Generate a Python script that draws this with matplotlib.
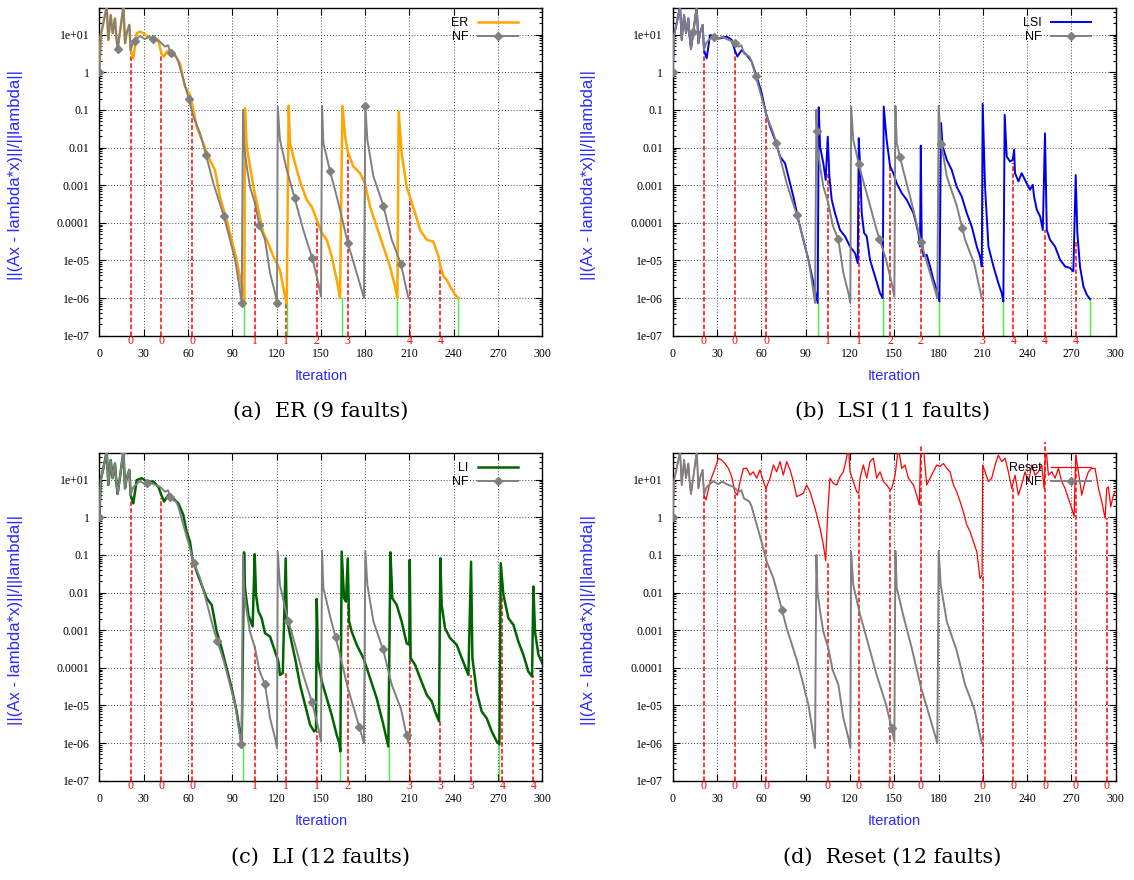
import numpy as np
import matplotlib
matplotlib.use("Agg")
import matplotlib.pyplot as plt
from matplotlib.lines import Line2D
from matplotlib.ticker import LogLocator, NullFormatter

# residual curves, stored as (iteration, log10 residual) points

NF = [(0, 0.0), (1.0, 1.0), (2.7, 1.30), (5.0, 1.75), (6.1, 0.86), (7.7, 1.52), (9.0, 1.04),
      (10.6, 1.43), (11.7, 0.86), (12.4, 0.62), (14.0, 1.08), (16.3, 1.75), (17.4, 0.77),
      (18.5, 1.04), (20.3, 1.26), (21.2, 0.59), (22.6, 0.77), (23.9, 0.84), (27.5, 0.96),
      (30.9, 0.88), (33.5, 0.95), (36.6, 0.88), (41.1, 0.81), (44.5, 0.68), (46.5, 0.72),
      (48.3, 0.50), (51.9, 0.42), (53.5, 0.28), (56.9, -0.20), (60.5, -0.70), (63.7, -1.18),
      (68.2, -1.62), (72.2, -2.19), (77.2, -2.95), (84.2, -3.81), (88.5, -4.45), (91.9, -4.98),
      (94.1, -5.51), (96.4, -6.13), (97.3, -1.0), (98.0, -1.97), (99.8, -2.5), (102.0, -3.04),
      (105.4, -3.48), (108.4, -4.07), (112.2, -4.45), (115.6, -5.34), (119.0, -5.87),
      (120.3, -6.13), (120.8, -0.91), (122.3, -1.80), (126.9, -2.59), (132.3, -3.35),
      (138.1, -4.19), (144.2, -4.94), (148.3, -5.6), (150.1, -5.96), (150.8, -0.89),
      (151.7, -1.88), (156.2, -2.62), (161.9, -3.48), (168.2, -4.53), (174.3, -5.34),
      (179.2, -6.0), (180.1, -0.89), (181.5, -1.80), (185.6, -2.77), (192.3, -3.54),
      (198.0, -4.45), (204.3, -5.10), (207.0, -5.6), (209.3, -6.0)]

# all runs share the fault-free start up to the first fault
EARLY = NF[:16]

ER = EARLY + [
    (23.0, 0.37), (25.3, 1.04), (27.5, 1.08), (29.8, 1.04), (33.2, 0.93), (36.6, 0.90),
    (40.0, 0.86), (42.0, 0.50), (43.8, 0.42), (45.6, 0.55), (47.9, 0.58), (51.2, 0.46),
    (54.6, 0.24), (58.0, -0.38), (61.4, -0.60), (63.7, -1.0), (65.9, -1.45), (70.4, -1.89),
    (74.9, -2.34), (78.3, -2.60), (81.7, -3.31), (86.2, -3.92), (89.6, -4.45), (93.0, -4.98),
    (96.4, -5.69), (98.2, -6.09), (98.6, -0.96), (99.8, -1.97), (102.0, -2.50), (105.2, -3.21),
    (107.7, -3.66), (111.1, -4.27), (114.4, -4.54), (117.8, -4.89), (122.3, -5.25),
    (125.7, -5.95), (126.9, -6.15), (128.2, -0.89), (129.1, -1.88), (132.5, -2.42),
    (135.9, -2.90), (140.4, -3.39), (143.8, -3.57), (147.2, -3.92), (150.6, -4.27),
    (154.0, -4.45), (157.3, -4.89), (160.7, -5.51), (163.0, -6.0), (164.6, -0.89),
    (166.4, -1.71), (168.2, -2.11), (172.0, -2.50), (176.5, -2.68), (179.9, -2.95),
    (183.3, -3.57), (187.8, -4.10), (192.3, -4.63), (196.8, -5.16), (200.2, -5.69),
    (201.8, -6.0), (202.7, -1.04), (204.7, -2.15), (208.1, -3.04), (210.2, -3.30),
    (213.8, -3.74), (217.2, -4.19), (221.7, -4.45), (226.2, -4.50), (229.6, -4.89),
    (231.0, -5.16), (233.0, -5.42), (235.2, -5.51), (237.5, -5.69), (240.9, -5.91),
    (243.1, -6.0)]

LSI = EARLY + [
    (23.0, 0.37), (25.3, 0.99), (28.7, 0.95), (32.1, 0.90), (36.6, 0.95), (40.0, 0.86),
    (42.0, 0.59), (43.8, 0.42), (46.7, 0.59), (50.1, 0.46), (53.5, 0.28), (56.9, -0.12),
    (60.3, -0.56), (63.2, -1.09), (65.9, -1.44), (69.3, -1.80), (72.7, -2.24), (76.1, -2.42),
    (78.3, -2.77), (81.7, -3.30), (85.1, -3.92), (88.5, -4.45), (91.9, -4.98), (95.3, -5.60),
    (98.2, -6.13), (98.9, -0.93), (99.8, -1.97), (102.0, -2.42), (103.6, -2.86), (105.0, -1.71),
    (106.1, -2.77), (107.7, -3.39), (109.9, -3.74), (113.3, -4.19), (116.7, -4.36),
    (120.1, -4.63), (123.5, -4.81), (125.3, -5.07), (126.0, -1.75), (126.9, -2.50),
    (128.0, -3.74), (129.6, -4.27), (131.4, -4.36), (133.6, -4.98), (137.0, -5.42),
    (140.4, -5.87), (142.2, -6.0), (142.9, -0.91), (144.9, -1.80), (147.2, -2.50),
    (149.4, -2.68), (151.7, -2.95), (155.1, -3.21), (158.5, -3.39), (163.0, -3.74),
    (166.4, -4.27), (167.5, -4.63), (168.0, -1.95), (168.6, -4.45), (169.8, -4.89),
    (172.0, -4.85), (174.3, -5.16), (176.5, -5.51), (178.8, -5.78), (180.6, -6.09),
    (181.7, -1.35), (182.8, -1.97), (185.6, -2.33), (188.9, -2.59), (192.3, -3.04),
    (195.7, -3.30), (199.1, -3.74), (202.5, -4.10), (205.9, -4.63), (208.1, -4.89),
    (209.3, -5.16), (209.9, -0.84), (211.5, -3.04), (213.8, -4.63), (217.2, -5.16),
    (220.5, -5.60), (222.8, -5.87), (223.9, -6.09), (224.8, -1.13), (226.2, -2.24),
    (228.4, -2.37), (230.2, -2.33), (231.2, -2.06), (231.8, -2.68), (234.1, -2.90),
    (236.3, -2.68), (239.7, -2.95), (242.0, -3.12), (243.8, -2.99), (244.7, -3.30),
    (246.5, -3.65), (248.8, -3.83), (250.6, -4.19), (252.1, -1.62), (253.3, -4.19),
    (255.5, -4.45), (258.9, -4.63), (262.3, -4.98), (265.7, -5.16), (269.1, -5.20),
    (271.3, -5.29), (272.9, -2.73), (274.0, -4.27), (275.8, -5.16), (278.1, -5.69),
    (280.4, -5.91), (282.6, -6.03)]

LI = EARLY + [
    (23.0, 0.37), (25.3, 0.99), (28.7, 1.04), (32.1, 0.95), (36.6, 0.95), (40.0, 0.81),
    (42.0, 0.59), (43.8, 0.42), (46.7, 0.59), (50.1, 0.50), (53.5, 0.37), (56.9, 0.06),
    (59.1, -0.38), (61.4, -0.65), (63.0, -1.09), (65.9, -1.44), (69.3, -1.80), (72.7, -2.15),
    (76.1, -2.33), (79.5, -3.04), (82.8, -3.48), (86.2, -4.01), (89.6, -4.54), (93.0, -5.16),
    (96.4, -6.04), (98.0, -0.93), (98.6, -1.88), (100.9, -2.59), (103.8, -2.90), (105.2, -0.98),
    (106.1, -2.06), (107.7, -2.50), (109.9, -2.68), (112.2, -3.08), (115.6, -3.17),
    (119.0, -3.57), (121.2, -3.83), (122.3, -4.19), (124.2, -4.14), (126.2, -1.09),
    (126.9, -2.68), (129.1, -3.12), (132.5, -3.74), (135.9, -4.45), (139.3, -4.98),
    (142.7, -5.51), (145.4, -5.69), (146.7, -5.65), (147.2, -2.17), (148.1, -3.83),
    (150.6, -4.36), (154.0, -4.81), (157.3, -5.25), (160.7, -5.78), (162.5, -6.0),
    (163.2, -6.22), (164.1, -0.91), (165.7, -2.15), (167.0, -2.24), (168.2, -1.09),
    (169.1, -2.77), (170.9, -3.04), (174.3, -3.39), (178.8, -3.74), (183.3, -4.27),
    (187.8, -4.81), (192.3, -5.51), (195.7, -6.09), (197.1, -0.93), (198.4, -2.15),
    (201.4, -2.33), (204.7, -2.77), (208.1, -3.35), (209.9, -3.39), (210.2, -1.13),
    (210.8, -3.74), (213.8, -3.92), (217.2, -4.27), (221.7, -4.72), (225.1, -4.89),
    (227.3, -5.16), (230.0, -5.42), (230.9, -1.09), (231.8, -2.33), (234.1, -2.95),
    (237.5, -3.21), (242.0, -3.39), (245.4, -3.74), (249.9, -4.19), (251.7, -1.18),
    (252.6, -3.74), (255.5, -4.63), (258.9, -5.16), (262.3, -5.34), (265.7, -5.69),
    (269.1, -5.96), (270.9, -6.03), (271.8, -1.22), (273.6, -2.06), (277.0, -2.68),
    (280.4, -2.86), (283.7, -3.30), (287.1, -3.65), (290.5, -4.10), (293.0, -4.23),
    (293.9, -1.84), (295.0, -3.04), (297.3, -3.65), (300.0, -3.88)]

RESET = EARLY + [
    (22.6, 0.46), (25.3, 0.95), (28.7, 1.30), (30.9, 1.57), (33.2, 1.52), (35.4, 1.43),
    (37.7, 1.30), (40.0, 1.08), (42.0, 0.68), (43.8, 0.59), (45.6, 0.95), (47.9, 1.30),
    (50.1, 1.30), (52.4, 1.12), (54.6, 1.21), (56.9, 1.04), (59.1, 1.26), (61.4, 0.95),
    (63.2, 0.77), (65.9, 1.04), (68.2, 1.39), (70.4, 1.21), (72.7, 1.48), (74.9, 1.12),
    (77.2, 1.48), (79.5, 1.26), (81.7, 0.95), (84.0, 0.55), (86.2, 0.59), (88.5, 0.64),
    (90.7, 0.86), (93.0, 0.68), (96.4, 0.24), (99.8, -0.29), (102.0, -0.73), (103.6, -1.15),
    (105.0, 0.15), (106.5, 1.04), (108.8, 0.90), (111.1, 0.86), (113.3, 1.08), (115.6, 1.21),
    (117.4, 1.52), (119.0, 1.85), (120.1, 1.21), (122.3, 0.95), (124.6, 0.68), (126.0, 0.64),
    (126.9, 1.04), (129.1, 1.39), (131.4, 1.04), (133.6, 1.48), (135.9, 1.57), (138.1, 1.04),
    (140.4, 1.21), (142.7, 0.95), (144.9, 0.86), (147.2, 0.73), (148.3, 0.77), (150.6, 1.12),
    (152.8, 1.85), (155.1, 1.30), (157.3, 1.39), (159.6, 1.04), (163.0, 0.86), (165.2, 0.59),
    (167.0, 0.33), (168.0, 1.95), (169.8, 1.85), (172.0, 0.86), (174.3, 1.04), (176.5, 1.21),
    (178.8, 1.39), (181.0, 1.35), (183.3, 1.43), (185.6, 1.30), (187.8, 1.21), (190.1, 0.86),
    (192.3, 0.68), (194.6, 0.42), (196.8, 0.15), (199.1, -0.20), (201.4, -0.38),
    (203.6, -0.65), (205.9, -0.91), (208.1, -1.62), (209.5, -1.53), (209.9, 1.39),
    (211.5, 1.21), (213.8, 0.95), (216.0, 1.04), (218.3, 1.39), (220.5, 1.65), (222.8, 1.48),
    (225.1, 1.57), (227.3, 1.21), (229.6, 0.77), (231.8, 1.12), (234.1, 0.59), (236.3, 0.86),
    (238.6, 1.21), (240.9, 0.95), (243.1, 1.39), (245.4, 1.12), (247.6, 1.21), (249.9, 1.39),
    (251.5, 0.77), (252.6, 1.95), (254.4, 1.12), (256.7, 1.21), (258.9, 1.04), (261.2, 1.30),
    (263.4, 0.95), (265.7, 0.77), (267.9, 0.50), (270.2, 0.24), (271.8, 0.02), (272.9, 1.65),
    (274.7, 1.21), (277.0, 0.59), (279.2, 0.95), (281.5, 1.21), (283.7, 1.30), (286.0, 1.30),
    (288.3, 0.77), (290.5, 0.42), (292.8, -0.03), (293.9, 0.77), (295.0, 0.81),
    (296.6, 0.28), (298.4, 0.59), (300.0, 0.68)]

# injected faults: iteration, label, log10 residual where the marker line ends
FAULT_IT_A = [21.2, 42.0, 63.0, 105.2, 126.2, 147.2, 168.2, 210.2, 231.0]
FAULT_LBL_A = ["0", "0", "0", "1", "1", "2", "3", "4", "4"]
FAULT_LOG_A = [0.59, 0.50, -1.09, -3.30, -6.15, -3.92, -2.10, -3.30, -5.16]

FAULT_IT_B = [21.0, 42.0, 63.2, 105.0, 126.0, 147.2, 168.0, 209.9, 230.7, 252.1, 272.9]
FAULT_LBL_B = ["0", "0", "0", "1", "1", "2", "2", "3", "4", "4", "4"]
FAULT_LOG_B = [0.59, 0.59, -1.09, -2.70, -2.46, -2.50, -4.63, -5.16, -2.42, -4.19, -4.45]

FAULT_IT_C = [21.2, 42.0, 63.0, 105.2, 126.2, 147.2, 168.2, 210.2, 231.0, 251.7, 272.9, 293.9]
FAULT_LBL_C = ["0", "0", "0", "1", "1", "1", "2", "3", "3", "3", "4", "4"]
FAULT_LOG_C = [0.59, 0.50, -1.13, -3.39, -4.10, -5.69, -2.24, -3.39, -5.42, -4.19, -2.06, -4.19]

FAULT_IT_D = [21.0, 42.0, 63.2, 105.0, 126.0, 147.2, 168.0, 209.9, 230.7, 252.1, 272.9, 293.9]
FAULT_LBL_D = ["0"] * 12
FAULT_LOG_D = [0.59, 0.68, 0.77, -1.15, 0.64, 0.73, 1.95, -1.58, 0.77, 2.00, 1.65, -0.03]

# restarts after convergence (green)
CONV_IT_A = [98.2, 126.9, 164.1, 201.8, 243.1]
CONV_LOG_A = [-6.09, -6.15, -6.0, -6.0, -6.0]
CONV_IT_B = [98.2, 142.2, 180.6, 223.9, 282.6]
CONV_LOG_B = [-6.13, -6.0, -6.09, -6.09, -6.03]
CONV_IT_C = [97.1, 163.2, 196.2, 270.9]
CONV_LOG_C = [-6.04, -6.22, -6.09, -6.03]
CONV_IT_D = []
CONV_LOG_D = []

# where the NF point markers sit
MARK_A = [0, 12.4, 23.9, 36.6, 48.3, 60.5, 72.2, 84.2, 96.4, 108.4, 120.3, 132.3, 144.2,
          156.2, 168.2, 180.1, 192.3, 204.3]
MARK_B = [0, 14, 28, 42, 56.2, 70, 84, 97.7, 112, 126, 140, 154, 168, 182, 196]
MARK_C = [0, 16.3, 32, 48, 64, 80, 96, 112, 128, 144, 160, 176, 192, 208]
MARK_D = [0, 74, 148.3]

X_TICKS = [0, 30, 60, 90, 120, 150, 180, 210, 240, 270, 300]
Y_TICKS = [1e-7, 1e-6, 1e-5, 1e-4, 1e-3, 1e-2, 1e-1, 1, 10]
Y_TICK_LABELS = ["1e-07", "1e-06", "1e-05", "0.0001", "0.001", "0.01", "0.1", "1", "1e+01"]

PANELS = [
    dict(pos=[0.0876, 0.6185, 0.3907, 0.3720], name="ER", data=ER, color="#ffa500", lw=1.8,
         f_it=FAULT_IT_A, f_lbl=FAULT_LBL_A, f_log=FAULT_LOG_A,
         c_it=CONV_IT_A, c_log=CONV_LOG_A, marks=MARK_A,
         caption="(a)  ER (9 faults)", cap_xy=(0.283, 0.533)),
    dict(pos=[0.5932, 0.6185, 0.3907, 0.3720], name="LSI", data=LSI, color="#0000e8", lw=1.4,
         f_it=FAULT_IT_B, f_lbl=FAULT_LBL_B, f_log=FAULT_LOG_B,
         c_it=CONV_IT_B, c_log=CONV_LOG_B, marks=MARK_B,
         caption="(b)  LSI (11 faults)", cap_xy=(0.787, 0.533)),
    dict(pos=[0.0876, 0.1128, 0.3907, 0.3720], name="LI", data=LI, color="#006400", lw=1.8,
         f_it=FAULT_IT_C, f_lbl=FAULT_LBL_C, f_log=FAULT_LOG_C,
         c_it=CONV_IT_C, c_log=CONV_LOG_C, marks=MARK_C,
         caption="(c)  LI (12 faults)", cap_xy=(0.283, 0.026)),
    dict(pos=[0.5932, 0.1128, 0.3907, 0.3720], name="Reset", data=RESET, color="#ff0000", lw=0.9,
         f_it=FAULT_IT_D, f_lbl=FAULT_LBL_D, f_log=FAULT_LOG_D,
         c_it=CONV_IT_D, c_log=CONV_LOG_D, marks=MARK_D,
         caption="(d)  Reset (12 faults)", cap_xy=(0.787, 0.026)),
]

NF_COLOR = "#808080"
LABEL_BLUE = "#2a2aff"
SANS = "Liberation Sans"
SERIF = "Liberation Serif"

fig = plt.figure(figsize=(11.34, 8.80), dpi=100)

nf_it, nf_log = np.array(NF).T

for p in PANELS:
    ax = fig.add_axes(p["pos"])
    ax.set_yscale("log")
    ax.set_xlim(0, 300)
    ax.set_ylim(1e-7, 50)
    ax.set_axisbelow(True)
    ax.grid(True, which="major", linestyle=(0, (1, 2)), color="#444444", lw=0.7)

    it, lg = np.array(p["data"]).T

    # fault markers: dashed red lines from the bottom up to the residual at that iteration
    for fi, fv in zip(p["f_it"], p["f_log"]):
        ax.plot([fi, fi], [1e-7, 10 ** fv], color="#ff0000", lw=1.1,
                linestyle=(0, (3, 1.5)), clip_on=False, zorder=2)
    for fi, fl in zip(p["f_it"], p["f_lbl"]):
        ax.annotate(fl, xy=(fi, 0), xycoords=("data", "axes fraction"),
                    xytext=(0, -3.5), textcoords="offset points", ha="center", va="center",
                    color="#ff0000", fontsize=8.5, family=SERIF, zorder=5)
    for ci, cv in zip(p["c_it"], p["c_log"]):
        ax.plot([ci, ci], [1e-7, 10 ** cv], color="#44ee44", lw=1.0, zorder=2)

    ax.plot(it, 10 ** lg, color=p["color"], lw=p["lw"], zorder=3)
    ax.plot(nf_it, 10 ** nf_log, color=NF_COLOR, lw=1.4, zorder=4)
    mk = np.array(p["marks"])
    ax.plot(mk, 10 ** np.interp(mk, nf_it, nf_log), linestyle="none", marker="D",
            ms=3.9, color=NF_COLOR, zorder=4)

    ax.set_xticks(X_TICKS)
    ax.set_xticklabels([str(v) for v in X_TICKS], family=SERIF, fontsize=8.5)
    ax.set_yticks(Y_TICKS)
    ax.set_yticklabels(Y_TICK_LABELS, family=SERIF, fontsize=8.5)
    ax.yaxis.set_minor_locator(LogLocator(base=10, subs=np.arange(2, 10)))
    ax.yaxis.set_minor_formatter(NullFormatter())
    ax.tick_params(which="both", direction="in", top=True, right=True, width=0.8)
    ax.tick_params(which="major", length=5)
    ax.tick_params(which="minor", length=2.5)
    ax.tick_params(axis="x", pad=9)
    ax.tick_params(axis="y", pad=7)
    for s in ax.spines.values():
        s.set_linewidth(1.0)

    ax.set_xlabel("Iteration", color=LABEL_BLUE, fontsize=10.5, family=SANS)
    ax.xaxis.set_label_coords(0.5, -0.102)
    ax.set_ylabel("||(Ax - lambda*x)||/||lambda||", color=LABEL_BLUE, fontsize=12, family=SANS)
    ax.yaxis.set_label_coords(-0.172, 0.49)

    handles = [Line2D([], [], color=p["color"], lw=p["lw"]),
               Line2D([], [], color=NF_COLOR, lw=1.4, marker="D", ms=3.9)]
    ax.legend(handles, [p["name"], "NF"], loc="upper right", bbox_to_anchor=(0.965, 1.0),
              frameon=False, markerfirst=False, handlelength=3.2, labelspacing=0.15,
              borderaxespad=0.3, prop={"family": SANS, "size": 9})

    fig.text(p["cap_xy"][0], p["cap_xy"][1], p["caption"], ha="center", va="center",
             fontsize=15, family="DejaVu Serif")

fig.savefig("out.png", dpi=100)
